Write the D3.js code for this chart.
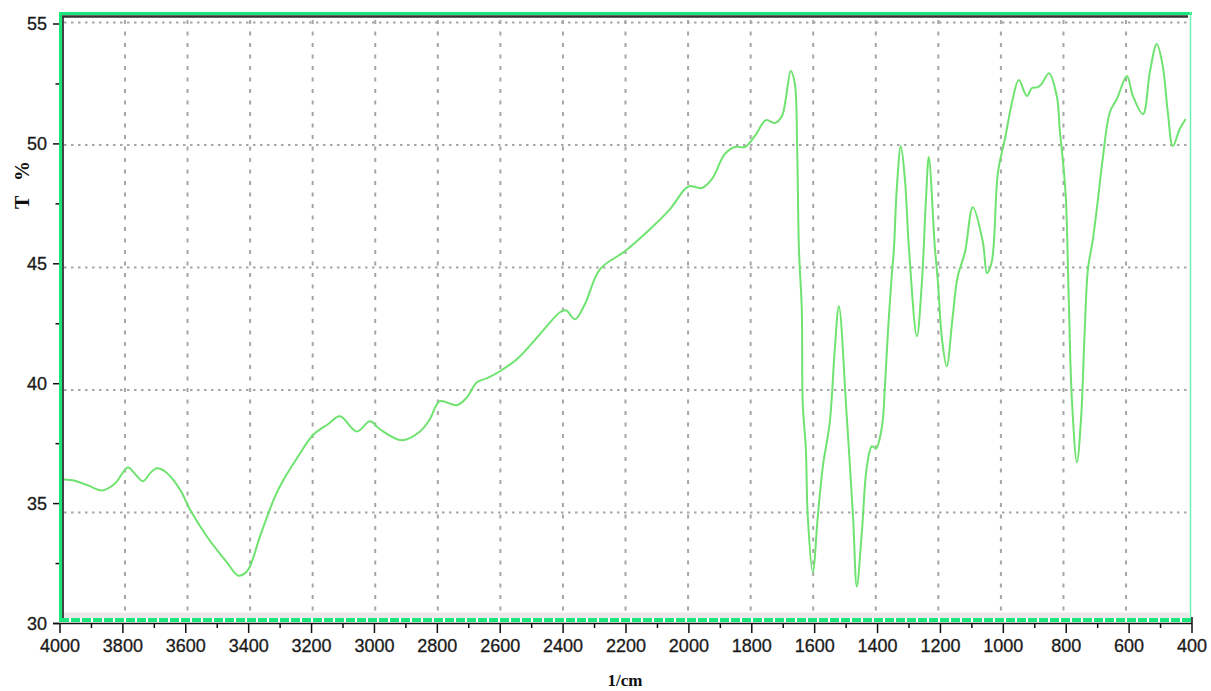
<!DOCTYPE html>
<html>
<head>
<meta charset="utf-8">
<script src="https://cdn.jsdelivr.net/npm/d3@7"></script>
<style>
  html, body { margin: 0; padding: 0; background: #fff; }
  svg { display: block; }
</style>
</head>
<body>
<svg id="chart" width="1211" height="691"></svg>
<script>
// IR spectrum: wavenumber (1/cm) against transmittance (T %)
const wavenumbers = [
  4000, 3959, 3911, 3866, 3825, 3784, 3758, 3736, 3714, 3692, 3666, 3641, 3615, 3587,
  3533, 3469, 3434, 3412, 3396, 3364, 3316, 3291, 3246, 3196, 3148, 3110, 3056, 3014,
  2983, 2913, 2855, 2824, 2792, 2738, 2706, 2674, 2642, 2601, 2547, 2474, 2410, 2391,
  2362, 2331, 2283, 2203, 2124, 2060, 2013, 1997, 1959, 1927, 1886, 1854, 1822, 1790,
  1755, 1726, 1704, 1692, 1676, 1663, 1656, 1650, 1641, 1638, 1628, 1622, 1606, 1590,
  1574, 1552, 1536, 1523, 1498, 1478, 1466, 1450, 1434, 1418, 1405, 1386, 1377, 1367,
  1355, 1348, 1339, 1326, 1313, 1300, 1275, 1259, 1246, 1237, 1218, 1208, 1195, 1180,
  1161, 1145, 1122, 1097, 1065, 1052, 1037, 1017, 995, 970, 951, 925, 909, 890,
  878, 855, 830, 820, 811, 801, 792, 782, 766, 753, 741, 731, 715, 699,
  684, 661, 639, 607, 588, 556, 534, 512, 493, 477, 461, 439, 420
];
const transmittance = [
  36.02, 35.97, 35.76, 35.55, 35.84, 36.51, 36.18, 35.93, 36.26, 36.47, 36.34, 36.01, 35.51, 34.76,
  33.63, 32.55, 32.00, 32.09, 32.38, 33.63, 35.30, 35.95, 36.90, 37.85, 38.31, 38.64, 38.01, 38.43,
  38.10, 37.64, 38.01, 38.51, 39.27, 39.10, 39.43, 40.06, 40.23, 40.52, 41.02, 42.06, 42.98, 43.06,
  42.69, 43.31, 44.77, 45.53, 46.44, 47.28, 48.11, 48.24, 48.16, 48.53, 49.57, 49.87, 49.87, 50.33,
  50.99, 50.87, 51.16, 51.87, 53.04, 52.50, 50.07, 45.61, 43.11, 39.22, 37.26, 34.47, 32.13, 34.47,
  36.55, 38.39, 41.44, 43.23, 38.64, 34.47, 31.54, 33.80, 36.55, 37.39, 37.30, 38.22, 39.77, 42.15,
  44.48, 45.61, 48.11, 49.91, 48.53, 45.61, 41.98, 44.23, 47.70, 49.45, 45.73, 44.23, 41.85, 40.73,
  42.81, 44.48, 45.48, 47.36, 45.90, 44.61, 45.07, 48.82, 50.20, 51.87, 52.66, 52.00, 52.33, 52.37,
  52.50, 52.95, 52.00, 50.49, 49.37, 47.70, 43.52, 39.35, 36.72, 38.51, 42.27, 44.77, 46.03, 47.70,
  49.37, 51.33, 51.87, 52.83, 52.00, 51.24, 53.00, 54.17, 53.25, 51.33, 49.91, 50.62, 51.04
];

const xTicks = [4000, 3800, 3600, 3400, 3200, 3000, 2800, 2600, 2400, 2200, 2000, 1800, 1600, 1400, 1200, 1000, 800, 600, 400];
const yTicks = [30, 35, 40, 45, 50, 55];
const xLabel = "1/cm";
const yLabel = "T   %";

const svg = d3.select("#chart");

// frame of the plotting area
const frame = { left: 62, right: 1191, top: 16, bottom: 618 };

// value scales (these carry the axis ticks and the spectrum)
const x = d3.scaleLinear().domain([4000, 400]).range([60, 1192]);
const y = d3.scaleLinear().domain([30, 55]).range([623.5, 24]);

// the dotted grid is laid out on its own slightly wider lattice
const gx = d3.scaleLinear().domain([4000, 400]).range([62.4, 1188.6]);
const gy = d3.scaleLinear().domain([30, 55]).range([635, 22.5]);

// plot background
svg.append("rect")
  .attr("x", frame.left).attr("y", frame.top)
  .attr("width", frame.right - frame.left).attr("height", frame.bottom - frame.top)
  .attr("fill", "#fff");

// light band along the bottom edge
svg.append("rect")
  .attr("x", frame.left).attr("y", 612.5)
  .attr("width", frame.right - frame.left - 2).attr("height", 5.5)
  .attr("fill", "#ece8ec");

// grid
const grid = svg.append("g");
grid.selectAll("line.v")
  .data(xTicks.filter(d => d !== 4000 && d !== 400))
  .join("line")
  .attr("class", "v")
  .attr("x1", d => gx(d)).attr("x2", d => gx(d))
  .attr("y1", frame.top + 4).attr("y2", 612)
  .attr("stroke", "#a6a6a6").attr("stroke-width", 2)
  .attr("stroke-dasharray", "4,7.5");
grid.selectAll("line.h")
  .data(yTicks.filter(d => d !== 30))
  .join("line")
  .attr("class", "h")
  .attr("x1", frame.left + 2).attr("x2", frame.right - 2)
  .attr("y1", d => gy(d)).attr("y2", d => gy(d))
  .attr("stroke", "#a6a6a6").attr("stroke-width", 2)
  .attr("stroke-dasharray", "2.5,4.5");

// spectrum
const pts = wavenumbers.map((w, i) => [w, transmittance[i]]);
const line = d3.line()
  .x(d => x(d[0]))
  .y(d => y(d[1]))
  .curve(d3.curveCatmullRom.alpha(0.5));
svg.append("path")
  .datum(pts)
  .attr("d", line)
  .attr("fill", "none")
  .attr("stroke", "#6fe36f")
  .attr("stroke-width", 2)
  .attr("stroke-linejoin", "round");

// frame edges
svg.append("line") // left green edge
  .attr("x1", 60.5).attr("x2", 60.5).attr("y1", 12).attr("y2", 622)
  .attr("stroke", "#19e57a").attr("stroke-width", 3);
svg.append("line") // left dark inner edge
  .attr("x1", 63).attr("x2", 63).attr("y1", 16).attr("y2", 618)
  .attr("stroke", "#444").attr("stroke-width", 2);
svg.append("line") // top green edge
  .attr("x1", 59).attr("x2", 1192).attr("y1", 13.5).attr("y2", 13.5)
  .attr("stroke", "#19e57a").attr("stroke-width", 3);
svg.append("line") // top dark inner edge
  .attr("x1", 62).attr("x2", 1188).attr("y1", 16.5).attr("y2", 16.5)
  .attr("stroke", "#333").attr("stroke-width", 2.5);
svg.append("line") // right edge
  .attr("x1", 1190.5).attr("x2", 1190.5).attr("y1", 12).attr("y2", 620)
  .attr("stroke", "#6ff0b0").attr("stroke-width", 1.5);
svg.append("line") // bottom green edge
  .attr("x1", 60).attr("x2", 1191).attr("y1", 620).attr("y2", 620)
  .attr("stroke", "#19e57a").attr("stroke-width", 4)
  .attr("stroke-dasharray", "9,2");

const labelFont = "Liberation Sans, Arial, sans-serif";

// x axis
const xAxis = svg.append("g");
xAxis.append("line")
  .attr("x1", 53).attr("x2", 1192).attr("y1", 623.5).attr("y2", 623.5)
  .attr("stroke", "#111").attr("stroke-width", 1.5);
const xMinor = d3.range(3900, 400, -200);
xAxis.selectAll("line.maj").data(xTicks).join("line")
  .attr("class", "maj")
  .attr("x1", d => x(d)).attr("x2", d => x(d))
  .attr("y1", d => d === 400 ? 617 : 623).attr("y2", 633)
  .attr("stroke", "#111").attr("stroke-width", 1.5);
xAxis.selectAll("line.min").data(xMinor).join("line")
  .attr("class", "min")
  .attr("x1", d => x(d)).attr("x2", d => x(d))
  .attr("y1", 623).attr("y2", 628)
  .attr("stroke", "#111").attr("stroke-width", 1.5);
xAxis.selectAll("text").data(xTicks).join("text")
  .attr("x", d => x(d)).attr("y", 652)
  .attr("text-anchor", "middle")
  .attr("font-family", labelFont)
  .attr("font-size", 18)
  .attr("fill", "#1a1a1a")
  .attr("stroke", "#1a1a1a").attr("stroke-width", 0.3)
  .text(d => d);

// y axis
const yAxis = svg.append("g");
const yMinor = [32.5, 37.5, 42.5, 47.5, 52.5];
yAxis.selectAll("line.maj").data(yTicks).join("line")
  .attr("class", "maj")
  .attr("x1", 53).attr("x2", 59)
  .attr("y1", d => y(d)).attr("y2", d => y(d))
  .attr("stroke", "#111").attr("stroke-width", 1.5);
yAxis.selectAll("line.min").data(yMinor).join("line")
  .attr("class", "min")
  .attr("x1", 55.5).attr("x2", 59)
  .attr("y1", d => y(d)).attr("y2", d => y(d))
  .attr("stroke", "#111").attr("stroke-width", 1.5);
yAxis.selectAll("text").data(yTicks).join("text")
  .attr("x", 47).attr("y", d => y(d))
  .attr("dy", "0.36em")
  .attr("text-anchor", "end")
  .attr("font-family", labelFont)
  .attr("font-size", 18)
  .attr("fill", "#1a1a1a")
  .attr("stroke", "#1a1a1a").attr("stroke-width", 0.3)
  .text(d => d);

// axis titles
svg.append("text")
  .attr("x", 625).attr("y", 686)
  .attr("text-anchor", "middle")
  .attr("font-family", "Liberation Serif, Times New Roman, serif")
  .attr("font-weight", "bold")
  .attr("font-size", 17)
  .attr("fill", "#111")
  .text(xLabel);
svg.append("text")
  .attr("transform", "translate(29,185) rotate(-90)")
  .attr("text-anchor", "middle")
  .attr("font-family", "Liberation Serif, Times New Roman, serif")
  .attr("font-weight", "bold")
  .attr("font-size", 20)
  .attr("fill", "#111")
  .style("white-space", "pre")
  .text(yLabel);
</script>
</body>
</html>
